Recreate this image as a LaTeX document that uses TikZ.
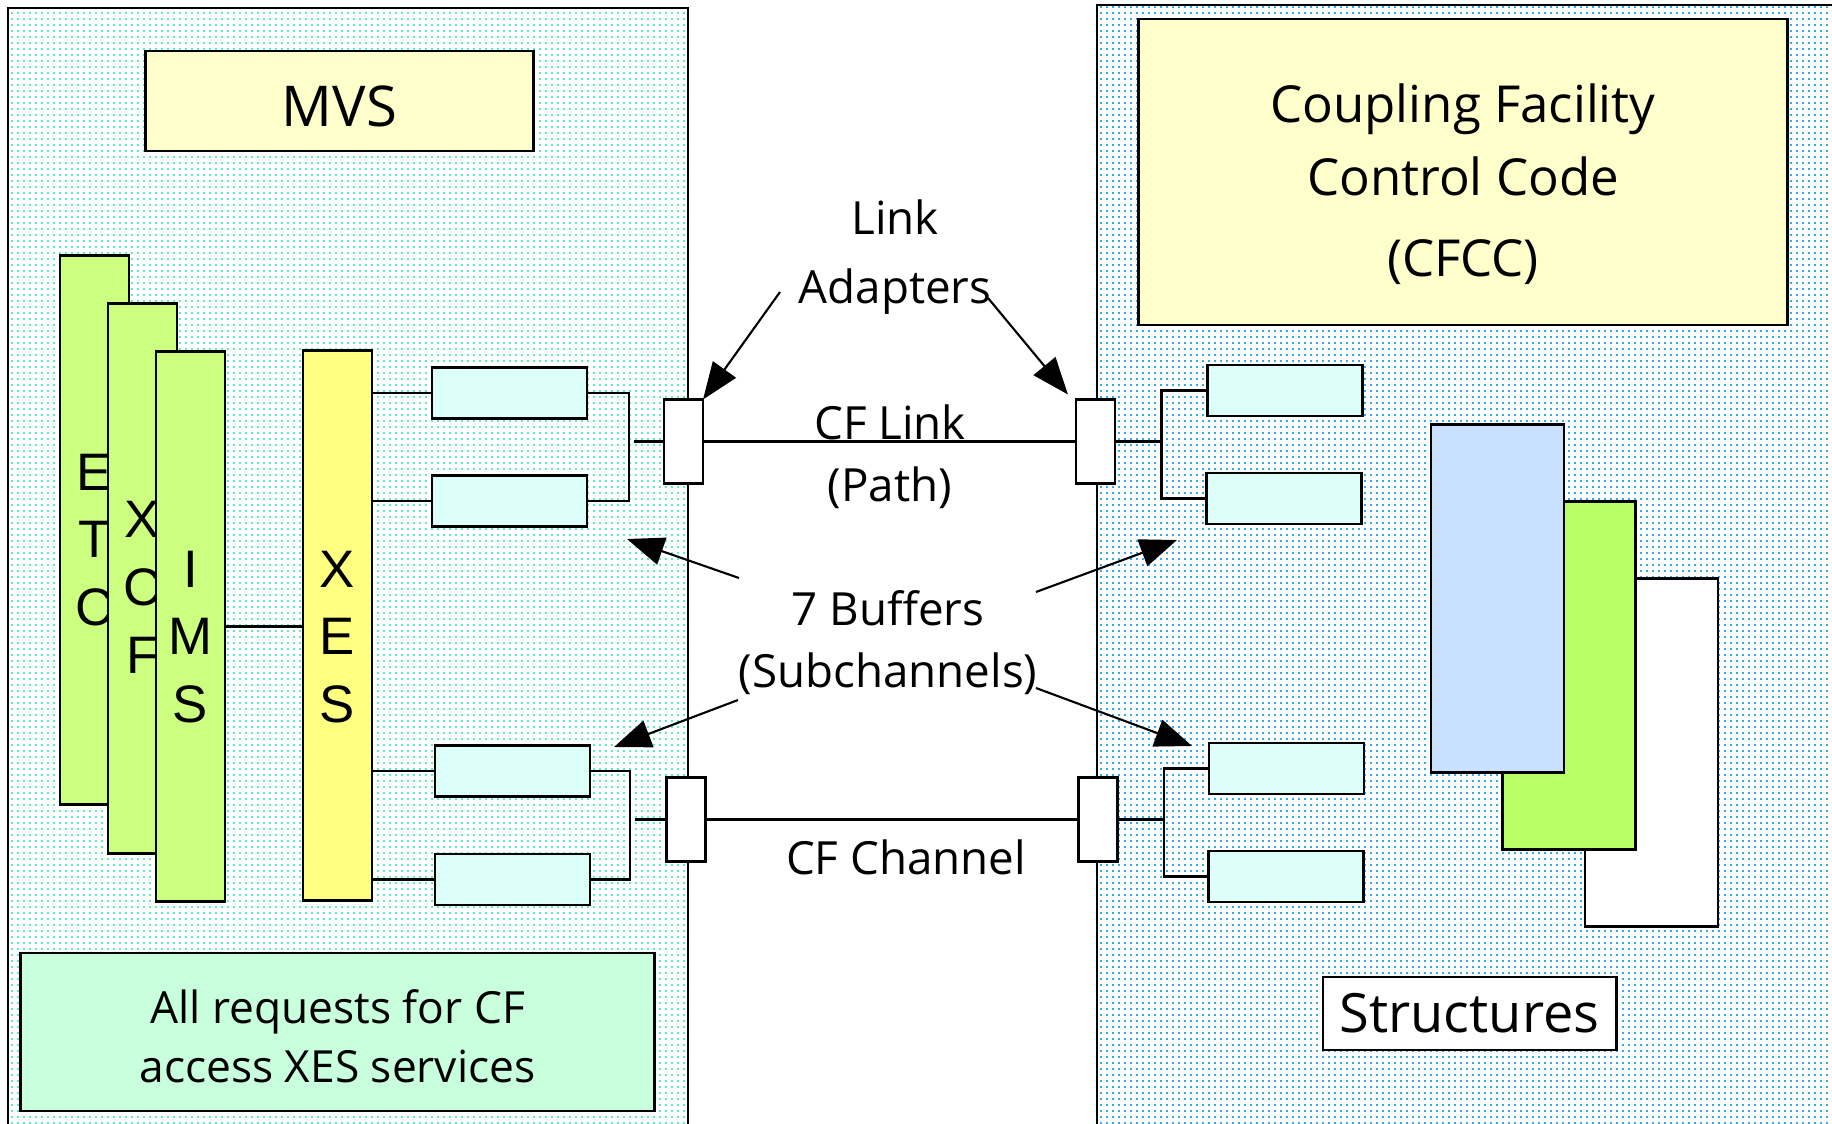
\documentclass[tikz,border=0pt]{standalone}
\usepackage{fontspec}
\setmainfont{Open Sans}
\newfontfamily\barfont{Liberation Sans}
\usetikzlibrary{arrows.meta,patterns.meta}

\definecolor{dotcyan}{HTML}{55EEC8}
\definecolor{dotblue}{HTML}{33AAEE}
\definecolor{paleyellow}{HTML}{FFFFCC}
\definecolor{appgreen}{HTML}{CCFF80}
\definecolor{xesyellow}{HTML}{FFFF80}
\definecolor{bufcyan}{HTML}{DDFFFA}
\definecolor{mint}{HTML}{C8FFDC}
\definecolor{strblue}{HTML}{CAE0FF}
\definecolor{strgreen}{HTML}{BBFF66}

\tikzdeclarepattern{
  name=panedots, type=uncolored,
  bounding box={(0pt,0pt) and (1.7pt,1.56pt)},
  tile size={(1.7pt,1.56pt)},
  code={\fill (0pt,0pt) rectangle (0.55pt,0.6pt);}
}

\tikzset{
  box/.style={draw, line width=0.8pt, inner sep=0pt, outer sep=0pt},
  bar/.style={box, fill=appgreen, minimum width=0.69cm, minimum height=5.49cm},
  barletters/.style={font=\barfont\fontsize{15}{19.3}\selectfont, align=center, inner sep=0pt},
  buffer/.style={box, fill=bufcyan, minimum width=1.55cm, minimum height=0.51cm},
  adapter/.style={box, fill=white, minimum width=0.39cm, minimum height=0.84cm},
  structure/.style={box, minimum width=1.33cm, minimum height=3.47cm},
  midlabel/.style={font=\fontsize{13}{17.6}\selectfont, align=center, inner sep=0pt},
  wire/.style={line width=0.6pt},
  pointer/.style={wire, -{Triangle[length=10.5pt,width=8pt]}},
}

\begin{document}
\begin{tikzpicture}[x=0.01cm,y=-0.01cm]
\useasboundingbox (0,0) rectangle (1832,1124);
\fill[white] (0,0) rectangle (1832,1124);

% the two systems
\fill[white] (8,8) rectangle (688,1130);
\fill[pattern=panedots, pattern color=dotcyan] (8,8) rectangle (688,1130);
\draw[line width=0.7pt] (8,1130) -- (8,8) -- (688,8) -- (688,1130);

\fill[white] (1097,5) rectangle (1840,1130);
\fill[pattern=panedots, pattern color=dotblue] (1097,5) rectangle (1840,1130);
\draw[line width=0.7pt] (1097,1130) -- (1097,5) -- (1840,5);

% MVS side
\node[box, fill=paleyellow, minimum width=3.87cm, minimum height=1cm] (mvs) at (339.5,101) {};
\node[font=\fontsize{16}{19}\selectfont, inner sep=0pt] (mvstext) at (339.5,106) {MVS};

\node[bar] (etc) at (94.5,530) {};
\node[barletters] (etctext) at (94.5,540) {E\\T\\C};
\node[bar] (xcf) at (142.5,578.5) {};
\node[barletters] (xcftext) at (142.5,587) {X\\C\\F};
\node[bar] (ims) at (190.5,626.5) {};
\node[barletters] (imstext) at (190.5,637) {I\\M\\S};
\node[bar, fill=xesyellow] (xes) at (337.5,625.5) {};
\node[barletters] (xestext) at (337.5,637) {X\\E\\S};

\draw[wire] (ims.east) -- (xes.west |- ims.east);

\node[buffer] (lb1) at (509.5,393) {};
\node[buffer] (lb2) at (509.5,501) {};
\node[buffer] (lb3) at (512.5,771) {};
\node[buffer] (lb4) at (512.5,879.5) {};

\draw[wire] (xes.east |- lb1.west) -- (lb1.west);
\draw[wire] (xes.east |- lb2.west) -- (lb2.west);
\draw[wire] (xes.east |- lb3.west) -- (lb3.west);
\draw[wire] (xes.east |- lb4.west) -- (lb4.west);
\draw[wire] (lb1.east) -- ++(42,0) |- (lb2.east);
\draw[wire] (lb3.east) -- ++(40,0) |- (lb4.east);

\node[box, fill=mint, minimum width=6.33cm, minimum height=1.58cm] (allreq) at (337.5,1032) {};
\node[font=\fontsize{12.6}{16.8}\selectfont, align=center, inner sep=0pt] (allreqtext)
  at (337.5,1036) {All requests for CF\\access XES services};

% CF side
\node[box, fill=paleyellow, minimum width=6.48cm, minimum height=3.06cm] (cfcc) at (1463,172) {};
\node[font=\fontsize{14.5}{20.8}\selectfont, align=center, inner sep=0pt] (cfcctext)
  at (1463,184) {Coupling Facility\\Control Code\\[2.3pt](CFCC)};

\node[buffer] (rb1) at (1285,390.5) {};
\node[buffer] (rb2) at (1284,498.5) {};
\node[buffer] (rb3) at (1286.5,768.5) {};
\node[buffer] (rb4) at (1286,876.5) {};

\draw[wire] (rb1.west) -- ++(-46,0) |- (rb2.west);
\draw[wire] (rb3.west) -- ++(-45,0) |- (rb4.west);

\node[structure, fill=white] (swhite) at (1651.5,752.5) {};
\node[structure, fill=strgreen] (sgreen) at (1569,675.5) {};
\node[structure, fill=strblue] (sblue) at (1497.5,598.5) {};

\node[box, fill=white, minimum width=2.93cm, minimum height=0.73cm,
  font=\fontsize{15.4}{18}\selectfont] (structs) at (1469.5,1013.5) {Structures};

% links between the two
\node[adapter] (la1) at (683.5,441.5) {};
\node[adapter] (ra1) at (1095.5,441.5) {};
\node[adapter] (la2) at (686,819.5) {};
\node[adapter] (ra2) at (1098,819.5) {};

\coordinate (lbj1) at (634,441.5);
\coordinate (lbj2) at (635,819.5);
\coordinate (rbj1) at (1161,441.5);
\coordinate (rbj2) at (1164,819.5);

\draw[wire] (lbj1) -- (la1.west);
\draw[wire] (lbj2) -- (la2.west);
\draw[wire] (ra1.east) -- (rbj1);
\draw[wire] (ra2.east) -- (rbj2);
\draw[wire] (la1.east) -- (ra1.west);
\draw[wire] (la2.east) -- (ra2.west);

\node[midlabel, font=\fontsize{13}{19.6}\selectfont] (adapters) at (895,257) {Link\\Adapters};
\node[midlabel] (cflink) at (890,457) {CF Link\\(Path)};
\node[midlabel] (buffers) at (888,643) {7 Buffers\\(Subchannels)};
\node[midlabel] (cfchannel) at (906,857) {CF Channel};

\coordinate (adL) at (780,292);
\coordinate (adR) at (988,298);
\coordinate (bufUL) at (739,578);
\coordinate (bufUR) at (1036,592);
\coordinate (bufLL) at (738,700);
\coordinate (bufLR) at (1036,688);

\coordinate (tipUL) at (627,539);
\coordinate (tipUR) at (1177,540);
\coordinate (tipLL) at (614,747);
\coordinate (tipLR) at (1192,746);

\draw[pointer] (adL) -- (la1.north east);
\draw[pointer] (adR) -- ([xshift=-0.08cm,yshift=0.05cm]ra1.north west);
\draw[pointer] (bufUL) -- (tipUL);
\draw[pointer] (bufUR) -- (tipUR);
\draw[pointer] (bufLL) -- (tipLL);
\draw[pointer] (bufLR) -- (tipLR);

\end{tikzpicture}
\end{document}
